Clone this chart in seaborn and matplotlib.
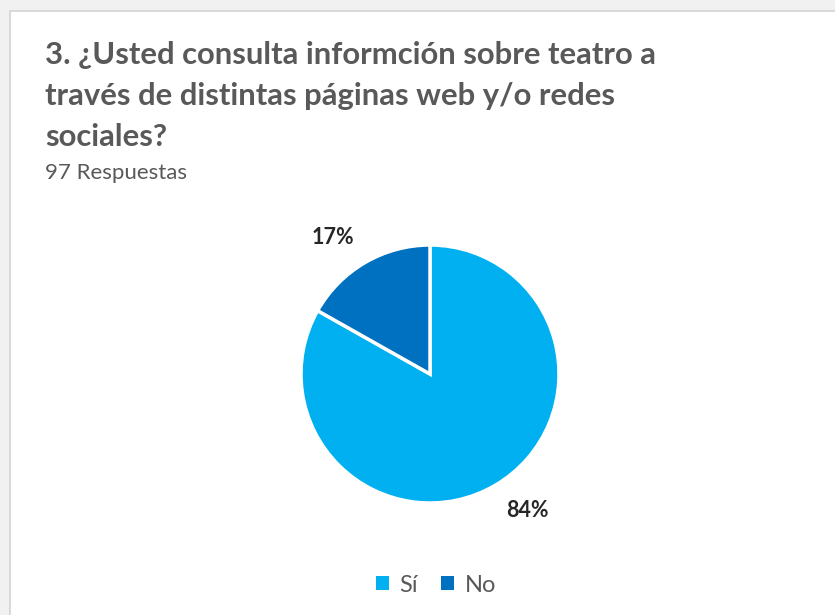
import numpy as np
import matplotlib
matplotlib.use("Agg")
import matplotlib.pyplot as plt
from matplotlib.patches import Rectangle, Patch
import seaborn as sns

# Survey answers (percentages shown on the chart)
categories = ["Sí", "No"]
percentages = [84, 17]
title_lines = [
    "3. ¿Usted consulta informción sobre teatro a",
    "través de distintas páginas web y/o redes",
    "sociales?",
]
subtitle = "97 Respuestas"

sns.set_theme(style="white")
plt.rcParams["font.family"] = ["Lato", "DejaVu Sans"]

palette = sns.color_palette(["#00B0F0", "#0070C0"])
W, H = 835, 615
fig = plt.figure(figsize=(W / 100, H / 100), dpi=100)
fig.patch.set_facecolor("#f1f1f1")

# chart card
fig.add_artist(Rectangle((10 / W, -0.1), 1.1, 1 - 11 / H + 0.1,
                         transform=fig.transFigure, facecolor="white",
                         edgecolor="#d4d4d4", linewidth=1.2, zorder=0))

title_color = "#595959"
for i, line in enumerate(title_lines):
    fig.text(45 / W, 1 - (55 + 41 * i) / H, line, fontsize=22.3,
             fontweight="bold", color=title_color, va="center", ha="left")
fig.text(45 / W, 1 - 173 / H, subtitle, fontsize=16, color=title_color,
         va="center", ha="left")

# pie area
cx, cy, r = 430, 374, 129
ax = fig.add_axes([(cx - r) / W, (H - cy - r) / H, 2 * r / W, 2 * r / H])
wedges, texts = ax.pie(
    percentages,
    colors=palette,
    startangle=90,
    counterclock=False,
    labels=[f"{p}%" for p in percentages],
    labeldistance=1.3,
    wedgeprops=dict(edgecolor="white", linewidth=2.5),
    textprops=dict(fontsize=15.5, fontweight="bold", color="#262626"),
)
# labels sit just outside each slice, nudged slightly counter-clockwise
for w, t in zip(wedges, texts):
    ang = np.deg2rad((w.theta1 + w.theta2) / 2 + 5)
    t.set_position((1.3 * np.cos(ang), 1.3 * np.sin(ang)))
    t.set_ha("center")
    t.set_va("center")
ax.set_xlim(-1, 1)
ax.set_ylim(-1, 1)
ax.set_aspect("equal")
ax.axis("off")

handles = [Patch(facecolor=c, edgecolor="none") for c in palette]
fig.legend(handles, categories, loc="center", bbox_to_anchor=(436 / W, 1 - 585 / H),
           ncol=2, frameon=False, fontsize=17, handlelength=0.55, handleheight=0.55,
           handletextpad=0.45, columnspacing=1.0, labelcolor=title_color)

fig.savefig("out.png", dpi=100)
